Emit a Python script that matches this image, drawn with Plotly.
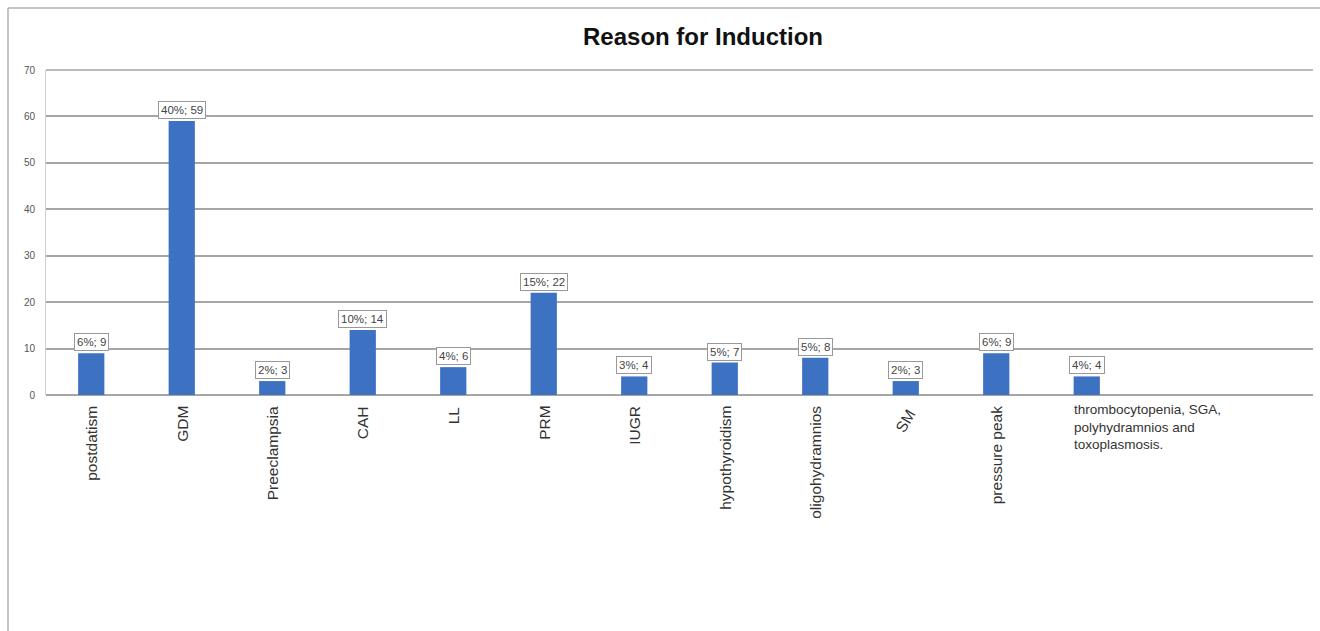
import plotly.graph_objects as go

categories = ["postdatism", "GDM", "Preeclampsia", "CAH", "LL", "PRM", "IUGR",
              "hypothyroidism", "oligohydramnios", "SM", "pressure peak",
              "thrombocytopenia, SGA,<br>polyhydramnios and<br>toxoplasmosis."]
counts = [9, 59, 3, 14, 6, 22, 4, 7, 8, 3, 9, 4]
percents = [6, 40, 2, 10, 4, 15, 3, 5, 5, 2, 6, 4]
label_angles = [-90, -90, -90, -90, -90, -90, -90, -90, -90, -60, -90, 0]
y_ticks = [0, 10, 20, 30, 40, 50, 60, 70]

W, H = 1320, 631
L, R, T, B = 46, 7, 70, 236
pw, ph = W - L - R, H - T - B

x_idx = list(range(len(categories)))

fig = go.Figure()
fig.add_trace(go.Bar(
    x=x_idx, y=counts, marker=dict(color="#3D71C1", line=dict(width=0)),
    width=0.29, hoverinfo="skip",
))

annotations = []
# data labels
for i, (c, p) in enumerate(zip(counts, percents)):
    annotations.append(dict(
        x=i, y=c, xref="x", yref="y", text=f"{p}%; {c}", showarrow=False,
        yanchor="bottom", xanchor="center", yshift=2,
        font=dict(family="Arial, Liberation Sans", size=11.5, color="#444"),
        bgcolor="white", bordercolor="#999", borderwidth=1, borderpad=2,
    ))
# category labels
for i, (cat, ang) in enumerate(zip(categories, label_angles)):
    if ang == 0:
        annotations.append(dict(
            x=i, y=0, xref="x", yref="y", text=cat, showarrow=False,
            xanchor="left", yanchor="top", xshift=-15, yshift=-5, align="left",
            font=dict(family="Arial, Liberation Sans", size=13.5, color="#333"),
        ))
    else:
        annotations.append(dict(
            x=i, y=0, xref="x", yref="y", text=cat, showarrow=False,
            textangle=ang, xanchor="center", yanchor="top", yshift=-9,
            font=dict(family="Arial, Liberation Sans", size=15.5, color="#333"),
        ))
# title
annotations.append(dict(
    x=(703 - L) / pw, y=(H - B - 36) / ph, xref="paper", yref="paper",
    text="<b>Reason for Induction</b>", showarrow=False,
    xanchor="center", yanchor="middle",
    font=dict(family="Arial, Liberation Sans", size=24, color="#111"),
))

# outer frame lines (left and top) and top gridline
px = lambda xp: (xp - L) / pw
py = lambda yp: (H - B - yp) / ph
shapes = [
    dict(type="line", xref="paper", yref="paper", x0=px(8), x1=px(8), y0=py(8), y1=py(631),
         line=dict(color="#b0b0b0", width=1.5)),
    dict(type="line", xref="paper", yref="paper", x0=px(8), x1=px(1320), y0=py(8), y1=py(8),
         line=dict(color="#b0b0b0", width=1.5)),
    dict(type="line", xref="paper", yref="paper", x0=0, x1=1, y0=1, y1=1,
         line=dict(color="#a6a6a6", width=1.5), layer="below"),
]

fig.update_layout(
    width=W, height=H, margin=dict(l=L, r=R, t=T, b=B),
    paper_bgcolor="white", plot_bgcolor="white",
    showlegend=False, annotations=annotations, shapes=shapes,
    xaxis=dict(range=[-0.5, 13.5], showticklabels=False, showgrid=False,
               zeroline=False, showline=False, ticks=""),
    yaxis=dict(range=[0, 70], tickvals=y_ticks, showgrid=True, gridcolor="#a6a6a6",
               gridwidth=1.5, zeroline=True, zerolinecolor="#a6a6a6", zerolinewidth=1.5,
               showline=True, linecolor="#d0d0d0", linewidth=1, ticks="",
               ticklabelstandoff=8,
               tickfont=dict(family="Arial, Liberation Sans", size=10, color="#555")),
)

fig.write_html("out.html")
